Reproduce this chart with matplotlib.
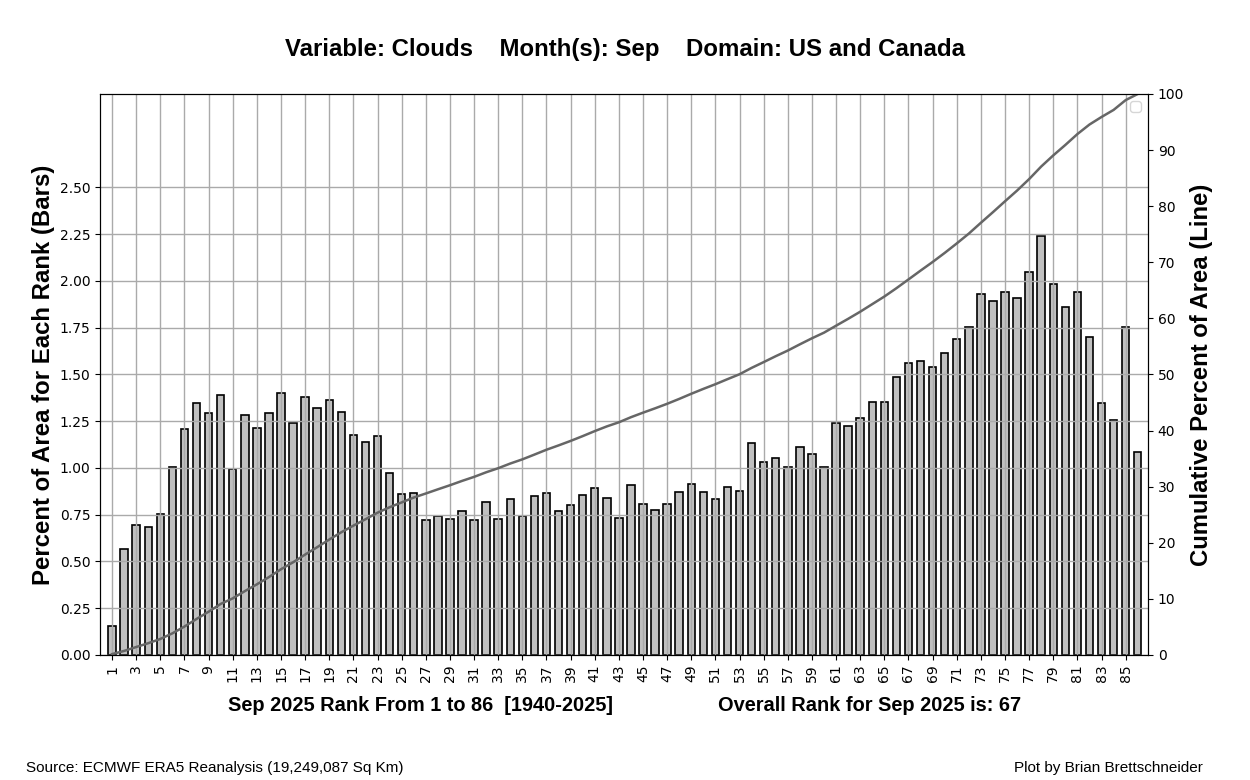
import numpy as np
import matplotlib
matplotlib.use('Agg')
import matplotlib.pyplot as plt

# percent of area for each rank (bars)
ranks = np.arange(1, 87)
pct_area = [
    0.155, 0.567, 0.696, 0.685, 0.755, 1.006, 1.21, 1.35, 1.295, 1.39,
    0.996, 1.285, 1.215, 1.295, 1.40, 1.24, 1.38, 1.32, 1.365, 1.30,
    1.178, 1.14, 1.17, 0.974, 0.862, 0.867, 0.723, 0.744, 0.728, 0.771,
    0.723, 0.819, 0.728, 0.835, 0.744, 0.851, 0.867, 0.771, 0.803, 0.856,
    0.894, 0.84, 0.733, 0.91, 0.808, 0.776, 0.808, 0.873, 0.915, 0.873,
    0.835, 0.90, 0.878, 1.135, 1.033, 1.055, 1.006, 1.113, 1.076, 1.006,
    1.242, 1.226, 1.269, 1.354, 1.354, 1.488, 1.563, 1.574, 1.542, 1.617,
    1.692, 1.756, 1.933, 1.895, 1.943, 1.911, 2.05, 2.243, 1.986, 1.863,
    1.943, 1.702, 1.349, 1.258, 1.756, 1.087,
]
left_ticks = [0.0, 0.25, 0.5, 0.75, 1.0, 1.25, 1.5, 1.75, 2.0, 2.25, 2.5]
right_ticks = [0, 10, 20, 30, 40, 50, 60, 70, 80, 90, 100]

title = 'Variable: Clouds    Month(s): Sep    Domain: US and Canada'
rank_text = 'Sep 2025 Rank From 1 to 86  [1940-2025]'
overall_text = 'Overall Rank for Sep 2025 is: 67'
source_text = 'Source: ECMWF ERA5 Reanalysis (19,249,087 Sq Km)'
credit_text = 'Plot by Brian Brettschneider'

cum = np.cumsum(pct_area)
cum = cum / cum[-1] * 100

fig = plt.figure(figsize=(12.5, 7.8), dpi=100)
ax = fig.add_axes([0.08, 0.1603, 0.8384, 0.7192])

ax.bar(ranks, pct_area, width=0.62, color='#c0c0c0', edgecolor='black', linewidth=1.2)
ax.set_xlim(0.0, 86.85)
ax.set_ylim(0, 3.0)
ax.set_yticks(left_ticks)
ax.set_yticklabels(['%.2f' % v for v in left_ticks], fontsize=10)
ax.set_xticks(ranks[::2])
ax.set_xticklabels([str(r) for r in ranks[::2]], rotation=90, fontsize=10)
ax.grid(True, color='#aaaaaa', linewidth=1.0)
ax.set_ylabel('Percent of Area for Each Rank (Bars)', family='Liberation Sans',
              fontsize=17.3, fontweight='bold', labelpad=3)

ax2 = ax.twinx()
ax2.plot(ranks, cum, color='#666666', linewidth=1.8)
ax2.set_ylim(0, 100)
ax2.set_yticks(right_ticks)
ax2.set_yticklabels([str(v) for v in right_ticks], fontsize=10)
ax2.set_ylabel('Cumulative Percent of Area (Line)', family='Liberation Sans',
               fontsize=17.2, fontweight='bold', labelpad=4)
ax2.legend(handles=[], loc='upper right')

fig.text(0.5, 0.937, title, ha='center', va='center', family='Liberation Sans',
         fontsize=17.3, fontweight='bold')
fig.text(0.3365, 0.096, rank_text, ha='center', va='center', family='Liberation Sans',
         fontsize=14.4, fontweight='bold')
fig.text(0.6955, 0.096, overall_text, ha='center', va='center', family='Liberation Sans',
         fontsize=14.4, fontweight='bold')
fig.text(0.021, 0.016, source_text, ha='left', va='center', family='Liberation Sans',
         fontsize=11)
fig.text(0.962, 0.016, credit_text, ha='right', va='center', family='Liberation Sans',
         fontsize=11)

fig.savefig('out.png', dpi=100)
